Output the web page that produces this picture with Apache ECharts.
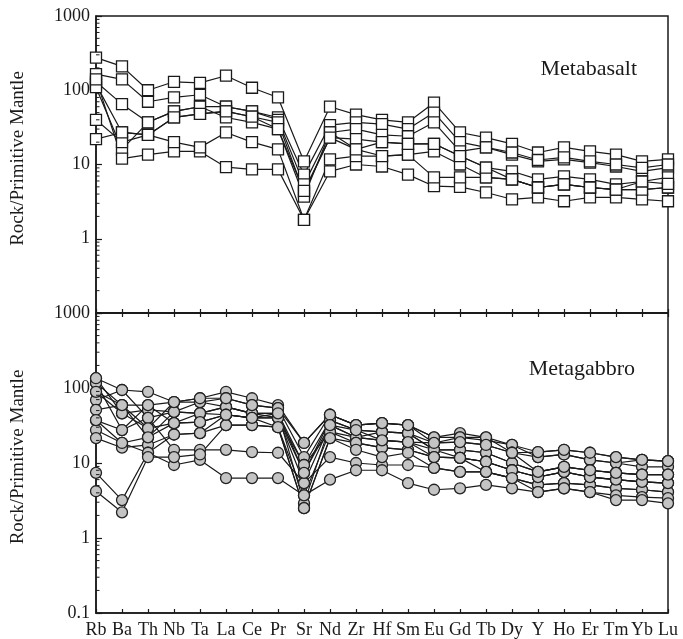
<!DOCTYPE html>
<html>
<head>
<meta charset="utf-8">
<script src="https://cdn.jsdelivr.net/npm/echarts@6/dist/echarts.min.js"></script>
<style>html,body{margin:0;padding:0;background:#fff}#c{width:683px;height:639px}</style>
</head>
<body>
<div id="c"></div>
<script>
const elements = ['Rb','Ba','Th','Nb','Ta','La','Ce','Pr','Sr','Nd','Zr','Hf','Sm','Eu','Gd','Tb','Dy','Y','Ho','Er','Tm','Yb','Lu'];

// Metabasalt samples
const B1 = [275,210,100,130,126,157,108,80,11,60,47,40,37,68,27,23,19,14.5,17,15,13.6,11,11.7];
const B2 = [165,140,70,80,87,60,52,43,7.3,34,37,35,30,50,20,17,13.6,11,11.7,10.6,9.4,8.1,9.1];
const B3 = [130,65,37,52,60,60,52,40,5.4,27,30,25,24,37,15,17,14.5,11.5,12.5,11,10,9,10];
const B4 = [120,27,25,43,48,52,44,37,4.2,23,22,20,19,19,13,9.1,8.1,6.3,6.9,6.3,5.4,5.9,6.7];
const B5 = [110,16,37,52,60,43,37,30,3.7,27,16,13,13.6,15,10,6.7,6.3,4.9,5.4,4.9,4.6,4.6,4.9];
const B6 = [140,12,13.6,15,15,9.2,8.6,8.6,1.8,8.1,10,9.4,7.3,5.1,5,4.2,3.4,3.6,3.2,3.6,3.6,3.4,3.2];
const B7 = [40,20,25,20,17,27,20,16,1.8,11.7,13,13,13.6,6.7,6.7,6.7,6.3,4.9,5.4,4.9,4.6,4.6,4.9];
const B8 = [22,27,25,43,48,52,44,30,4.4,23,16,20,19,19,13,9.1,6.3,4.9,5.4,4.9,4.6,5.9,5.5];

// Metagabbro samples
const G1  = [135,94,89,65,73,89,73,59,18.5,44,32,34,32,22,25,22,17.4,14,15,13.7,12,11,10.6];
const G2  = [117,59,59,65,65,73,59,54,12,44,32,34,32,18.5,22,20,17.4,12,13,11,10,11,10.6];
const G3  = [89,46,51,48,65,56,46,46,9.4,37,27.5,26,25,18.5,19,17.4,13.7,12,13,11,10,8.9,8.9];
const G4  = [69,94,40,48,46,56,46,40,7.4,37,27.5,26,25,15,15,13.7,10,7.6,8.9,8,7.4,7,7];
const G5  = [51,59,29,34,46,44,40,40,5.4,32,22,20,19,15,15,13.7,10,7.6,8.9,8,7.4,7,7];
const G6  = [37,27.5,59,34,35,44,40,30,3.7,26,22,20,19,12,11.7,10.4,8,6.5,7.6,6.5,6,5.6,5.4];
const G7  = [27.5,18.5,22,48,46,56,46,46,2.9,32,22,26,25,15,11.7,10.4,8,6.5,7.6,6.5,6,5.6,5.4];
const G8  = [21.5,16,17.4,24,25,32,32,30,2.5,21.5,18.5,16,15,12,11.7,7.6,6.3,5.1,5.4,5.1,4.6,4.4,4.1];
const G9  = [117,27.5,40,15,15,15,14,13.7,5.4,12,10,9.4,9.4,8.6,7.6,7.6,6.3,5.1,5.4,5.1,4.6,4.4,4.1];
const G10 = [37.4,18.5,13.7,9.4,11,6.3,6.3,6.3,3.7,6,8,8,5.4,4.4,4.6,5.1,4.6,4.1,4.6,4.1,3.7,3.5,3.4];
const G11 = [7.4,3.2,13.7,24,25,44,40,40,9.4,26,18.5,16,15,12,11.7,10.4,8,6.5,7.6,6.5,6,5.6,5.4];
const G12 = [4.2,2.2,12,12,13,32,32,30,2.5,21.5,15,12,13.7,8.6,7.6,7.6,6.3,4.1,4.6,4.1,3.2,3.2,2.9];
const G13 = [135,46,29,65,73,73,59,54,18.5,44,32,34,32,22,22,22,13.7,14,15,13.7,12,11,10.6];
const G14 = [89,59,22,34,35,44,40,46,7.4,32,27.5,20,19,18.5,19,17.4,13.7,7.6,8.9,8,7.4,7,7];

const basalt = [B1,B2,B3,B4,B5,B6,B7,B8];
const gabbro = [G1,G2,G3,G4,G5,G6,G7,G8,G9,G10,G11,G12,G13,G14];

// minor tick values of the log axes (2..9 within each decade)
const minorTicks = [];
for (let e = -1; e < 3; e++) for (let k = 2; k <= 9; k++) minorTicks.push(+(k * Math.pow(10, e)).toPrecision(3));

const FONT = 'Liberation Serif';
const INK = '#1a1a1a';

function mainY(grid, hideBottom) {
  return {
    type: 'log', logBase: 10, gridIndex: grid, min: 0.1, max: 1000,
    name: 'Rock/Primitive Mantle', nameLocation: 'middle', nameGap: 68,
    nameTextStyle: {fontFamily: FONT, fontSize: 19, color: INK, padding: [0, 0, 0, 12]},
    axisLine: {show: true, lineStyle: {color: INK, width: 1.5}},
    axisTick: {show: true, inside: true, length: 6, lineStyle: {color: INK, width: 1.2}},
    splitLine: {show: false},
    axisLabel: {fontFamily: FONT, fontSize: 18, color: INK, margin: 6,
      formatter: function (v) { return (hideBottom && v < 0.5) ? '' : String(+v); }}
  };
}
function xAx(grid, pos, labels) {
  return {
    type: 'category', gridIndex: grid, data: elements, boundaryGap: false, position: pos,
    axisLine: {show: true, onZero: false, lineStyle: {color: INK, width: 1.5}},
    axisTick: {show: true, inside: true, length: 4, lineStyle: {color: INK, width: 1.2}},
    axisLabel: {show: labels, fontFamily: FONT, fontSize: 18, color: INK, margin: 8, interval: 0},
    splitLine: {show: false}
  };
}
function minorTickSeries(xi, yi) {
  return {
    type: 'custom', xAxisIndex: xi, yAxisIndex: yi, silent: true, z: 5,
    data: minorTicks.map(function (v) { return [0, v]; }),
    encode: {x: 0, y: 1},
    renderItem: function (params, api) {
      const p = api.coord([api.value(0), api.value(1)]);
      return {type: 'line', shape: {x1: p[0], y1: p[1], x2: p[0] + 3.5, y2: p[1]},
        style: {stroke: INK, lineWidth: 1}};
    }
  };
}

const series = [minorTickSeries(0, 0), minorTickSeries(1, 1)];
basalt.forEach(function (d, i) {
  series.push({
    type: 'line', name: 'B' + (i + 1), xAxisIndex: 0, yAxisIndex: 0, data: d,
    symbol: 'rect', symbolSize: 11, showAllSymbol: true,
    lineStyle: {color: INK, width: 1.2},
    itemStyle: {color: '#fff', borderColor: INK, borderWidth: 1.3}
  });
});
gabbro.forEach(function (d, i) {
  series.push({
    type: 'line', name: 'G' + (i + 1), xAxisIndex: 1, yAxisIndex: 1, data: d,
    symbol: 'circle', symbolSize: 11, showAllSymbol: true,
    lineStyle: {color: INK, width: 1.2},
    itemStyle: {color: '#c4c4c4', borderColor: '#222', borderWidth: 1.3}
  });
});

const chart = echarts.init(document.getElementById('c'), null, {renderer: 'canvas'});
chart.setOption({
  animation: false,
  backgroundColor: '#fff',
  grid: [
    {left: 96, right: 15, top: 16, height: 297, show: true, borderColor: INK, borderWidth: 1.5, outerBoundsMode: 'none'},
    {left: 96, right: 15, top: 313, height: 300, show: true, borderColor: INK, borderWidth: 1.5, outerBoundsMode: 'none'}
  ],
  xAxis: [xAx(0, 'bottom', false), xAx(1, 'bottom', true), xAx(1, 'top', false)],
  yAxis: [mainY(0, true), mainY(1, false)],
  graphic: [
    {type: 'text', right: 46, top: 58, style: {text: 'Metabasalt', fontFamily: FONT, fontSize: 22, fill: INK}},
    {type: 'text', right: 48, top: 358, style: {text: 'Metagabbro', fontFamily: FONT, fontSize: 22, fill: INK}}
  ],
  series: series
});
</script>
</body>
</html>
